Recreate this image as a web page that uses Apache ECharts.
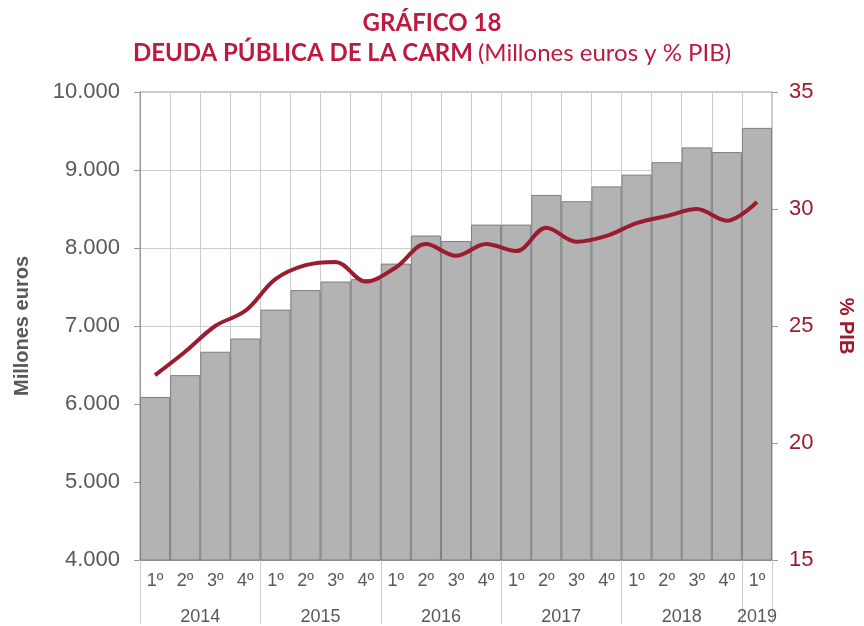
<!DOCTYPE html>
<html>
<head>
<meta charset="utf-8">
<script src="https://cdn.jsdelivr.net/npm/echarts@6/dist/echarts.min.js"></script>
<style>
  html, body { margin: 0; padding: 0; background: #fff; }
  #chart { width: 864px; height: 626px; }
</style>
</head>
<body>
<div id="chart"></div>
<script>
// trimestres 2014-T1 .. 2019-T1
const quarters = ['1º','2º','3º','4º','1º','2º','3º','4º','1º','2º','3º','4º','1º','2º','3º','4º','1º','2º','3º','4º','1º']
// deuda en millones de euros
const deuda = [6090, 6370, 6670, 6840, 7210, 7460, 7570, 7600, 7800, 8160, 8090, 8300, 8300, 8680, 8600, 8790, 8940, 9100, 9290, 9230, 9540]
// deuda en % del PIB
const pib = [22.9, 23.9, 25.0, 25.65, 27.0, 27.6, 27.74, 26.9, 27.5, 28.5, 28.0, 28.5, 28.2, 29.2, 28.6, 28.85, 29.4, 29.7, 30.0, 29.5, 30.3]
// años y su posición (en medios trimestres) en el eje inferior
const years = ['2014', '2015', '2016', '2017', '2018', '2019']
const yearPos = [4, 12, 20, 28, 36, 41]
const yearBounds = [0, 8, 16, 24, 32, 40, 42]

const yearSlots = new Array(quarters.length * 2 + 1).fill('')
yearPos.forEach((p, i) => { yearSlots[p] = years[i] })

const grey = '#595959'
const maroon = '#9b1b30'
const titleRed = '#bd1a3f'
const fmtMiles = v => String(v).replace(/\B(?=(\d{3})+(?!\d))/g, '.')

const chart = echarts.init(document.getElementById('chart'))
chart.setOption({
  animation: false,
  textStyle: { fontFamily: 'Liberation Sans, Arial, sans-serif' },
  title: {
    left: 'center',
    top: 3,
    text: '{b|GRÁFICO 18}\n{b|DEUDA PÚBLICA DE LA CARM} {n|(Millones euros y % PIB)}',
    textStyle: {
      rich: {
        b: { fontFamily: 'Lato', fontSize: 24, fontWeight: 'bold', color: titleRed, lineHeight: 30 },
        n: { fontFamily: 'Lato', fontSize: 24, fontWeight: 'normal', color: titleRed, lineHeight: 30 }
      }
    }
  },
  grid: { left: 140, right: 84, top: 92, bottom: 64, show: true, borderColor: '#999', borderWidth: 1 },
  xAxis: [
    {
      type: 'category',
      data: quarters,
      axisLine: { lineStyle: { color: '#999' } },
      axisTick: { length: 36, lineStyle: { color: '#ccc' } },
      axisLabel: { color: grey, fontSize: 18, margin: 12, interval: 0 },
      splitLine: { show: true, lineStyle: { color: '#ccc' } }
    },
    {
      type: 'category',
      data: yearSlots,
      boundaryGap: false,
      position: 'bottom',
      axisLine: { show: false },
      axisTick: {
        length: 64,
        interval: idx => yearBounds.includes(idx),
        lineStyle: { color: '#ccc' }
      },
      axisLabel: {
        color: grey, fontSize: 18, margin: 48,
        interval: idx => yearPos.includes(idx)
      },
      splitLine: { show: false }
    }
  ],
  yAxis: [
    {
      type: 'value',
      min: 4000, max: 10000, interval: 1000,
      name: 'Millones euros',
      nameLocation: 'middle',
      nameGap: 108,
      nameTextStyle: { color: grey, fontSize: 20, fontWeight: 'bold' },
      axisLine: { show: true, lineStyle: { color: '#999' } },
      axisTick: { show: true, length: 6, lineStyle: { color: '#999' } },
      axisLabel: { color: grey, fontSize: 22, margin: 20, formatter: fmtMiles },
      splitLine: { lineStyle: { color: '#ccc' } }
    },
    {
      type: 'value',
      min: 15, max: 35, interval: 5,
      position: 'right',
      name: '% PIB',
      nameLocation: 'middle',
      nameRotate: -90,
      nameGap: 64,
      nameTextStyle: { color: maroon, fontSize: 20, fontWeight: 'bold' },
      axisLine: { show: true, lineStyle: { color: '#ccc' } },
      axisTick: { show: true, length: 6, lineStyle: { color: '#999' } },
      axisLabel: { color: maroon, fontSize: 22, margin: 17 },
      splitLine: { show: false }
    }
  ],
  series: [
    {
      name: 'Millones euros',
      type: 'bar',
      data: deuda,
      barCategoryGap: 0,
      itemStyle: { color: '#b3b3b3', borderColor: '#7f7f7f', borderWidth: 1 }
    },
    {
      name: '% PIB',
      type: 'line',
      yAxisIndex: 1,
      data: pib,
      smooth: 0.35,
      symbol: 'none',
      lineStyle: { color: maroon, width: 4 }
    }
  ]
})
</script>
</body>
</html>
